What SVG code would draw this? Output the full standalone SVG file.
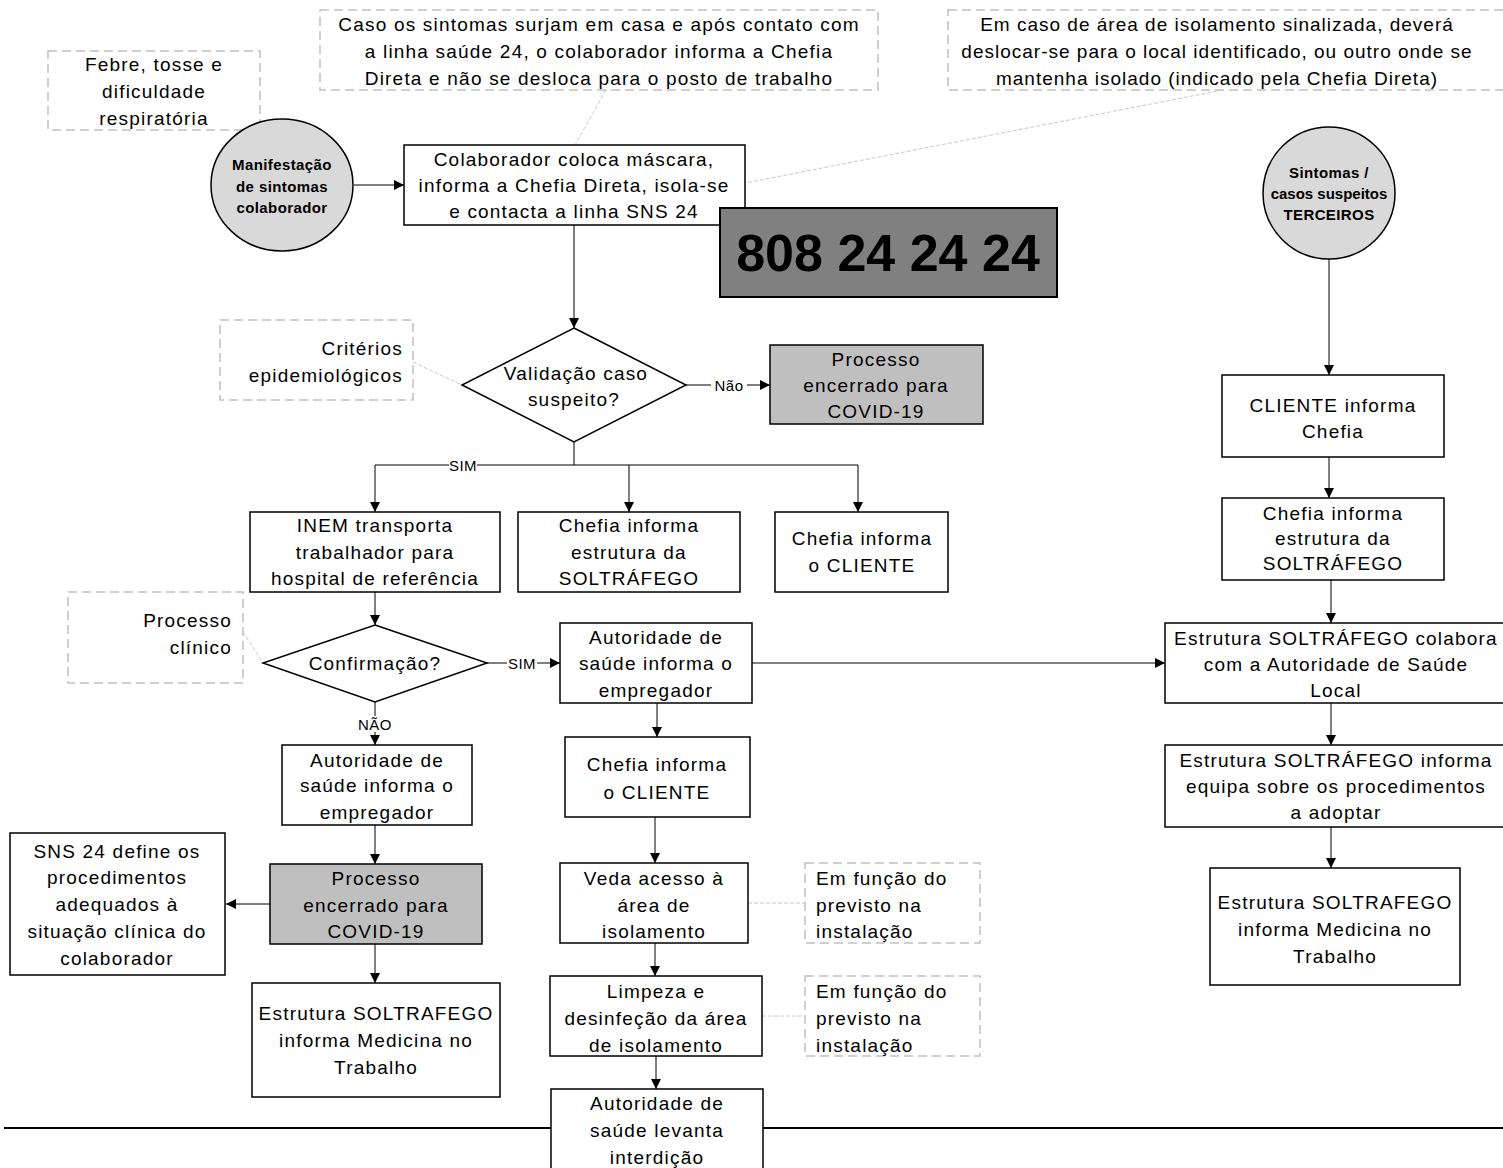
<svg xmlns="http://www.w3.org/2000/svg" width="1503" height="1168" viewBox="0 0 1503 1168">
<style>
text{font-family:"Liberation Sans",Arial,sans-serif;font-size:19px;letter-spacing:1.2px;fill:#000;text-anchor:middle;dominant-baseline:central}
.box{fill:#fff;stroke:#000;stroke-width:1.5}
.grey{fill:#bfbfbf;stroke:#000;stroke-width:1.5}
.note{fill:#fff;stroke:#c0c0c0;stroke-width:1.5;stroke-dasharray:9 5}
.circ{fill:#d9d9d9;stroke:#000;stroke-width:1.5}
.b{font-weight:bold;font-size:15px;letter-spacing:0.4px}
.ln{fill:none;stroke:#000;stroke-width:1}
.arr{fill:none;stroke:#000;stroke-width:1;marker-end:url(#ah)}
.dl{fill:none;stroke:#c8c8c8;stroke-width:1;stroke-dasharray:4 2}
.lbl{font-size:15px;letter-spacing:0.5px}
.r{text-anchor:end}
.l{text-anchor:start}
</style>
<defs>
<marker id="ah" viewBox="0 0 10 10" refX="10" refY="5" markerWidth="10" markerHeight="10" markerUnits="userSpaceOnUse" orient="auto">
<path d="M0,0 L10,5 L0,10 z" fill="#000"/>
</marker>
</defs>

<g id="connectors">
<line class="arr" x1="354" y1="185" x2="404" y2="185"/>
<line class="dl" x1="606" y1="90" x2="575" y2="145"/>
<line class="dl" x1="1223" y1="90" x2="745" y2="183"/>
<line class="arr" x1="574" y1="225" x2="574" y2="328"/>
<line class="dl" x1="413" y1="362" x2="462" y2="385"/>
<line class="arr" x1="686" y1="385" x2="770" y2="385"/>
<polyline class="ln" points="574,442 574,465"/>
<line class="ln" x1="375" y1="465" x2="858" y2="465"/>
<line class="arr" x1="375" y1="465" x2="375" y2="512"/>
<line class="arr" x1="629" y1="465" x2="629" y2="512"/>
<line class="arr" x1="858" y1="465" x2="858" y2="512"/>
<line class="arr" x1="375" y1="592" x2="375" y2="625"/>
<line class="dl" x1="243" y1="632" x2="263" y2="663"/>
<line class="arr" x1="487" y1="663" x2="560" y2="663"/>
<line class="arr" x1="752" y1="663" x2="1165" y2="663"/>
<line class="arr" x1="375" y1="702" x2="375" y2="745"/>
<line class="arr" x1="375" y1="825" x2="375" y2="864"/>
<line class="arr" x1="270" y1="904" x2="226" y2="904"/>
<line class="arr" x1="375" y1="944" x2="375" y2="983"/>
<line class="arr" x1="657" y1="703" x2="657" y2="737"/>
<line class="arr" x1="655" y1="817" x2="655" y2="863"/>
<line class="dl" x1="748" y1="903" x2="805" y2="903"/>
<line class="arr" x1="655" y1="943" x2="655" y2="976"/>
<line class="dl" x1="762" y1="1016" x2="805" y2="1016"/>
<line class="arr" x1="656" y1="1056" x2="656" y2="1089"/>
<line class="arr" x1="1329" y1="259" x2="1329" y2="375"/>
<line class="arr" x1="1329" y1="457" x2="1329" y2="498"/>
<line class="arr" x1="1331" y1="580" x2="1331" y2="623"/>
<line class="arr" x1="1331" y1="703" x2="1331" y2="745"/>
<line class="arr" x1="1331" y1="827" x2="1331" y2="868"/>
<line x1="4" y1="1128" x2="551" y2="1128" stroke="#000" stroke-width="2"/>
<line x1="763" y1="1128" x2="1503" y2="1128" stroke="#000" stroke-width="2"/>
<rect x="449" y="457" width="28" height="16" fill="#fff"/>
<text class="lbl" x="463" y="465">SIM</text>
<rect x="711" y="377" width="36" height="16" fill="#fff"/>
<text class="lbl" x="729" y="385">Não</text>
<rect x="507" y="655" width="30" height="16" fill="#fff"/>
<text class="lbl" x="522" y="663">SIM</text>
<rect x="354" y="716" width="42" height="16" fill="#fff"/>
<text class="lbl" x="375" y="724">NÃO</text>
</g>

<g id="note-febre">
<rect class="note" x="48" y="51" width="212" height="79"/>
<text x="154" y="64">Febre, tosse e</text>
<text x="154" y="91">dificuldade</text>
<text x="154" y="118">respiratória</text>
</g>

<g id="note-casa">
<rect class="note" x="320" y="10" width="558" height="80"/>
<text x="599" y="24">Caso os sintomas surjam em casa e após contato com</text>
<text x="599" y="51">a linha saúde 24, o colaborador informa a Chefia</text>
<text x="599" y="78">Direta e não se desloca para o posto de trabalho</text>
</g>

<g id="note-isolamento">
<rect class="note" x="948" y="10" width="560" height="80"/>
<text x="1217" y="24" style="letter-spacing:1px">Em caso de área de isolamento sinalizada, deverá</text>
<text x="1217" y="51" style="letter-spacing:1px">deslocar-se para o local identificado, ou outro onde se</text>
<text x="1217" y="78" style="letter-spacing:1px">mantenha isolado (indicado pela Chefia Direta)</text>
</g>

<g id="start-colaborador">
<ellipse class="circ" cx="282" cy="185" rx="71" ry="66"/>
<text class="b" x="282" y="164">Manifestação</text>
<text class="b" x="282" y="186">de sintomas</text>
<text class="b" x="282" y="207">colaborador</text>
</g>

<g id="box-mascara">
<rect class="box" x="404" y="145" width="341" height="80"/>
<text x="574" y="159">Colaborador coloca máscara,</text>
<text x="574" y="185">informa a Chefia Direta, isola-se</text>
<text x="574" y="211">e contacta a linha SNS 24</text>
</g>

<g id="box-808">
<rect x="720" y="208" width="337" height="89" fill="#808080" stroke="#000" stroke-width="2"/>
<text x="888" y="253" style="font-size:52px;font-weight:bold;letter-spacing:0">808 24 24 24</text>
</g>

<g id="start-terceiros">
<ellipse class="circ" cx="1329" cy="193" rx="66" ry="66"/>
<text class="b" x="1329" y="172">Sintomas /</text>
<text class="b" x="1329" y="193" style="letter-spacing:0">casos suspeitos</text>
<text class="b" x="1329" y="214">TERCEIROS</text>
</g>

<g id="note-criterios">
<rect class="note" x="220" y="320" width="193" height="80"/>
<text class="r" x="403" y="348">Critérios</text>
<text class="r" x="403" y="375">epidemiológicos</text>
</g>

<g id="dec-validacao">
<polygon class="box" points="574,328 686,385 574,442 462,385"/>
<text x="576" y="373">Validação caso</text>
<text x="574" y="399">suspeito?</text>
</g>

<g id="box-encerrado1">
<rect class="grey" x="770" y="345" width="213" height="79"/>
<text x="876" y="359">Processo</text>
<text x="876" y="385">encerrado para</text>
<text x="876" y="411">COVID-19</text>
</g>

<g id="box-inem">
<rect class="box" x="250" y="512" width="250" height="80"/>
<text x="375" y="525">INEM transporta</text>
<text x="375" y="552">trabalhador para</text>
<text x="375" y="578">hospital de referência</text>
</g>

<g id="box-chefia-estrutura">
<rect class="box" x="518" y="512" width="222" height="80"/>
<text x="629" y="525">Chefia informa</text>
<text x="629" y="552">estrutura da</text>
<text x="629" y="578">SOLTRÁFEGO</text>
</g>

<g id="box-chefia-cliente1">
<rect class="box" x="775" y="512" width="173" height="80"/>
<text x="862" y="538">Chefia informa</text>
<text x="862" y="565">o CLIENTE</text>
</g>

<g id="note-clinico">
<rect class="note" x="68" y="592" width="175" height="91"/>
<text class="r" x="232" y="620">Processo</text>
<text class="r" x="232" y="647">clínico</text>
</g>

<g id="dec-confirmacao">
<polygon class="box" points="375,625 487,663 375,702 263,663"/>
<text x="375" y="663">Confirmação?</text>
</g>

<g id="box-autoridade-sim">
<rect class="box" x="560" y="623" width="192" height="80"/>
<text x="656" y="637">Autoridade de</text>
<text x="656" y="663">saúde informa o</text>
<text x="656" y="690">empregador</text>
</g>

<g id="box-autoridade-nao">
<rect class="box" x="282" y="745" width="190" height="80"/>
<text x="377" y="760">Autoridade de</text>
<text x="377" y="785">saúde informa o</text>
<text x="377" y="812">empregador</text>
</g>

<g id="box-encerrado2">
<rect class="grey" x="270" y="864" width="212" height="80"/>
<text x="376" y="878">Processo</text>
<text x="376" y="905">encerrado para</text>
<text x="376" y="931">COVID-19</text>
</g>

<g id="box-sns">
<rect class="box" x="10" y="833" width="215" height="142"/>
<text x="117" y="851">SNS 24 define os</text>
<text x="117" y="877">procedimentos</text>
<text x="117" y="904">adequados à</text>
<text x="117" y="931">situação clínica do</text>
<text x="117" y="958">colaborador</text>
</g>

<g id="box-medicina1">
<rect class="box" x="252" y="983" width="248" height="114"/>
<text x="376" y="1013">Estrutura SOLTRAFEGO</text>
<text x="376" y="1040">informa Medicina no</text>
<text x="376" y="1067">Trabalho</text>
</g>

<g id="box-chefia-cliente2">
<rect class="box" x="565" y="737" width="185" height="80"/>
<text x="657" y="764">Chefia informa</text>
<text x="657" y="792">o CLIENTE</text>
</g>

<g id="box-veda">
<rect class="box" x="560" y="863" width="188" height="80"/>
<text x="654" y="878">Veda acesso à</text>
<text x="654" y="905">área de</text>
<text x="654" y="931">isolamento</text>
</g>

<g id="note-previsto1">
<rect class="note" x="805" y="863" width="175" height="80"/>
<text class="l" x="816" y="878">Em função do</text>
<text class="l" x="816" y="905">previsto na</text>
<text class="l" x="816" y="931">instalação</text>
</g>

<g id="box-limpeza">
<rect class="box" x="550" y="976" width="212" height="80"/>
<text x="656" y="991">Limpeza e</text>
<text x="656" y="1018">desinfeção da área</text>
<text x="656" y="1045">de isolamento</text>
</g>

<g id="note-previsto2">
<rect class="note" x="805" y="976" width="175" height="80"/>
<text class="l" x="816" y="991">Em função do</text>
<text class="l" x="816" y="1018">previsto na</text>
<text class="l" x="816" y="1045">instalação</text>
</g>

<g id="box-levanta">
<rect class="box" x="551" y="1089" width="212" height="85"/>
<text x="657" y="1103">Autoridade de</text>
<text x="657" y="1130">saúde levanta</text>
<text x="657" y="1157">interdição</text>
</g>

<g id="box-cliente-informa">
<rect class="box" x="1222" y="375" width="222" height="82"/>
<text x="1333" y="405">CLIENTE informa</text>
<text x="1333" y="431">Chefia</text>
</g>

<g id="box-chefia-estrutura2">
<rect class="box" x="1222" y="498" width="222" height="82"/>
<text x="1333" y="513">Chefia informa</text>
<text x="1333" y="538">estrutura da</text>
<text x="1333" y="563">SOLTRÁFEGO</text>
</g>

<g id="box-colabora">
<rect class="box" x="1165" y="623" width="345" height="80"/>
<text x="1336" y="638">Estrutura SOLTRÁFEGO colabora</text>
<text x="1336" y="664">com a Autoridade de Saúde</text>
<text x="1336" y="690">Local</text>
</g>

<g id="box-equipa">
<rect class="box" x="1165" y="745" width="345" height="82"/>
<text x="1336" y="760">Estrutura SOLTRÁFEGO informa</text>
<text x="1336" y="786">equipa sobre os procedimentos</text>
<text x="1336" y="812">a adoptar</text>
</g>

<g id="box-medicina2">
<rect class="box" x="1210" y="868" width="250" height="117"/>
<text x="1335" y="902">Estrutura SOLTRAFEGO</text>
<text x="1335" y="929">informa Medicina no</text>
<text x="1335" y="956">Trabalho</text>
</g>
</svg>
